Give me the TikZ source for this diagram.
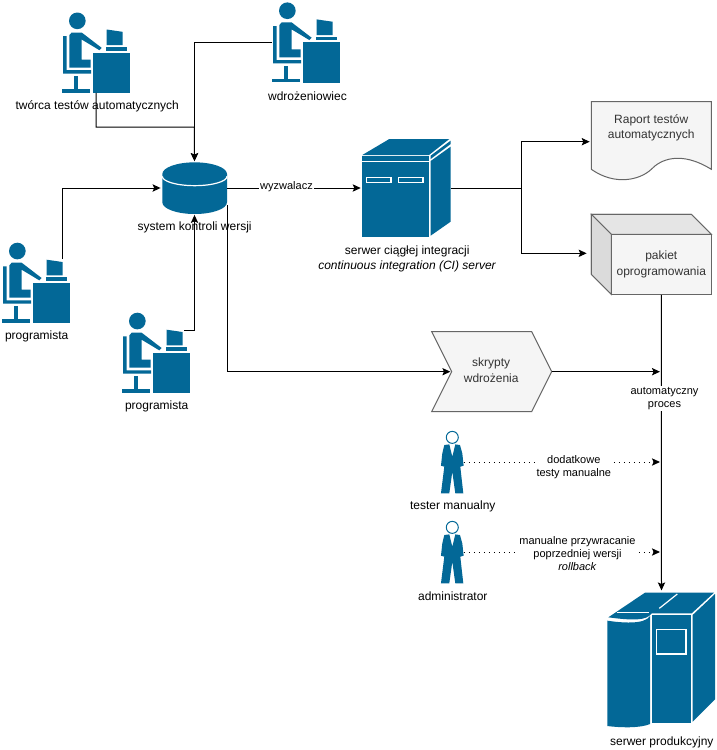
\documentclass[tikz,border=0pt]{standalone}
\usepackage{fontspec}
\setmainfont{Liberation Sans}
\usepackage{xcolor}
\usetikzlibrary{arrows.meta}
\definecolor{ciscoblue}{HTML}{036897}
\definecolor{boxfill}{HTML}{F5F5F5}
\definecolor{boxline}{HTML}{666666}
\definecolor{boxtext}{HTML}{333333}

\tikzset{
  opis/.style={inner sep=0pt,align=center,font=\fontsize{9}{11.7}\selectfont},
  maly/.style={fill=white,inner sep=1pt,align=center,font=\fontsize{8.25}{9.9}\selectfont},
  tekst/.style={opis,text=boxtext},
  miejsce/.style={inner sep=0pt,minimum width=#1},
  pudlo/.style={fill=boxfill,draw=boxline,line width=.75pt},
  polaczenie/.style={->,line width=.75pt,shorten >=1pt},
  kropki/.style={polaczenie,dash pattern=on .75pt off 3pt},
  pracownik/.pic={
    \begin{scope}[scale=1/3]
      \fill[ciscoblue] (-56,-95) circle[radius=25];
      \fill[ciscoblue] (-99,-49) -- (-88,-49) -- (-88,53) -- (-15,53) -- (-15,63) -- (-99,63) -- cycle;
      \fill[ciscoblue] (-65,71) rectangle (-54,110);
      \fill[ciscoblue] (-101,110) rectangle (-18,120);
      \fill[ciscoblue] (-80,-52) -- (-73,-60) -- (-43,-60) -- (17,-14) -- (10,-7) -- (-43,-39) -- (-43,21)
        -- (-16,21) -- (-16,45) -- (-80,45) -- cycle;
      \fill[ciscoblue] (-9,0) rectangle (101,121);
      \fill[ciscoblue] (31,-16) rectangle (93,-6);
      \fill[ciscoblue] (32,-69) -- (80,-62) -- (80,-22) -- (32,-22) -- cycle;
    \end{scope}
  },
  osoba/.pic={
    \begin{scope}[scale=1/3]
      \draw[ciscoblue,fill=white,line width=.75pt] (0,-25) circle[radius=18];
      \fill[ciscoblue] (-24,-2) -- (-9,-4) -- (0,33) -- (9,-4) -- (23,-2) -- (30,23) -- (34,60) -- (24,63)
        -- (33,143) -- (9,143) -- (0,78) -- (-9,143) -- (-34,143) -- (-24,63) -- (-34,60) -- (-30,23) -- cycle;
    \end{scope}
  },
}

\begin{document}
\begin{tikzpicture}[x=.75pt,y=-.75pt,>={Stealth[length=6pt,width=5.5pt,inset=1.2pt]}]
  \useasboundingbox (0,0) rectangle (717,750);
  \fill[white] (0,0) rectangle (717,750);

  % ludzie
  \node[miejsce=50.5pt,minimum height=60.2pt] (tworca) at (96,52.5) {};
  \node[miejsce=50.5pt,minimum height=60.2pt] (wdrozeniowiec) at (306,42.4) {};
  \node[miejsce=50.5pt,minimum height=60.2pt] (programistaA) at (36,282.7) {};
  \node[miejsce=50.5pt,minimum height=60.2pt] (programistaB) at (156,352.7) {};
  \pic at (tworca) {pracownik};
  \pic at (wdrozeniowiec) {pracownik};
  \pic at (programistaA) {pracownik};
  \pic at (programistaB) {pracownik};
  \node[miejsce=17pt,minimum height=46.5pt] (tester) at (452.3,462) {};
  \node[miejsce=17pt,minimum height=46.5pt] (administrator) at (452.3,552) {};
  \pic at (452.3,445.7) {osoba};
  \pic at (452.3,535.7) {osoba};

  % repozytorium
  \node[miejsce=48.5pt,minimum height=38pt] (repo) at (194.5,188) {};
  \begin{scope}[shift={(155,155)},scale=1/3]
    \fill[ciscoblue] (22,57) -- (22,142) arc[start angle=180,end angle=0,x radius=97,y radius=35]
      -- (216,57) arc[start angle=0,end angle=-180,x radius=97,y radius=35] -- cycle;
    \draw[white,line width=.9pt] (22,64) arc[start angle=180,end angle=0,x radius=97,y radius=28];
  \end{scope}

  % serwer CI
  \node[miejsce=66.3pt,minimum height=73.3pt] (serwerCI) at (406.5,188) {};
  \begin{scope}[shift={(340,90)},scale=1/3]
    \fill[ciscoblue] (67,195) -- (148,147) -- (328,147) -- (267,195) -- cycle;
    \fill[ciscoblue] (67,198) rectangle (267,213);
    \fill[ciscoblue] (67,217) rectangle (267,440);
    \fill[ciscoblue] (272,197) -- (332,152) -- (332,162) -- (272,207) -- cycle;
    \fill[ciscoblue] (272,213) -- (332,170) -- (332,395) -- (272,437) -- cycle;
    \draw[white,line width=1pt] (80,262) rectangle (153,277);
    \draw[white,line width=1pt] (176,262) rectangle (249,277);
  \end{scope}

  % raport
  \node[miejsce=90pt,minimum height=60pt] (raport) at (651.3,141.7) {};
  \draw[pudlo] (591.3,101.7) -- (711.3,101.7) -- (711.3,169.3)
    .. controls (680,150) and (660,160) .. (651.3,169.3)
    .. controls (640,180) and (615,186) .. (591.3,169.3) -- cycle;
  \node[tekst] (raportopis) at (651.2,127.9) {Raport testów\\automatycznych};

  % pakiet
  \draw[pudlo] (591.3,214.3) -- (691.3,214.3) -- (711.3,234.3) -- (711.3,294.3) -- (611.3,294.3) -- (591.3,274.3) -- cycle;
  \draw[fill=black!10,draw=boxline,line width=.75pt] (591.3,214.3) -- (691.3,214.3) -- (711.3,234.3) -- (611.3,234.3) -- cycle;
  \draw[fill=black!14,draw=boxline,line width=.75pt] (591.3,214.3) -- (611.3,234.3) -- (611.3,294.3) -- (591.3,274.3) -- cycle;
  \node[tekst,pudlo,text=boxtext,minimum width=75pt,minimum height=45pt] (pakiet) at (661.3,264.3) {pakiet\\oprogramowania};
  \coordinate (pakietwej) at (591.3,253.3);

  % skrypty
  \draw[pudlo] (431.7,331.7) -- (531.7,331.7) -- (551.7,371.7) -- (531.7,411.7) -- (431.7,411.7) -- (451.7,371.7) -- cycle;
  \node[tekst] (skrypty) at (491.2,370.2) {skrypty\\wdrożenia};
  \coordinate (skryptywej) at (451.7,371.7);
  \coordinate (skryptywyj) at (551.7,371.7);

  % serwer produkcyjny
  \node[miejsce=81pt,minimum height=102pt] (produkcja) at (661.5,660) {};
  \begin{scope}[shift={(590,580)},scale=1/3]
    \fill[ciscoblue] (165,38) -- (372,38) -- (305,100) -- (185,100)
      .. controls (170,122) and (130,122) .. (55,112) -- cycle;
    \draw[white,line width=.9pt] (80,98) -- (176,98);
    \draw[white,line width=.9pt] (208,85) -- (262,42);
    \fill[ciscoblue] (52,122) .. controls (90,128) and (165,135) .. (180,108) -- (180,432)
      .. controls (150,445) and (90,443) .. (52,438) -- cycle;
    \fill[ciscoblue] (187,105) rectangle (303,430);
    \fill[ciscoblue] (308,105) -- (375,42) -- (375,358) -- (308,425) -- cycle;
    \draw[white,line width=1pt] (200,148) rectangle (288,222);
  \end{scope}

  % polaczenia
  \coordinate (programistaAwyj) at (62.7,259);
  \coordinate (programistaBwyj) at (184.3,330.7);
  \coordinate (repowyj) at (227.3,205);
  \draw[polaczenie] (tworca.south) |- (194.3,127) -- (repo.north);
  \draw[polaczenie] (wdrozeniowiec.west) -| (repo.north);
  \draw[polaczenie] (programistaAwyj) |- (repo.west);
  \draw[polaczenie] (programistaBwyj) -| (repo.south);
  \draw[polaczenie] (repo.east) -- (serwerCI.west);
  \draw[polaczenie] (repowyj) |- (skryptywej);
  \draw[polaczenie] (serwerCI.east) -| (521.7,141.7) -- (raport.west);
  \draw[polaczenie,shorten >=3.5pt] (serwerCI.east) -| (521.7,253.3) -- (pakietwej);
  \draw[polaczenie] (skryptywyj) -- (pakiet.south |- skryptywyj);
  \draw[polaczenie] (pakiet.south) -- (produkcja.north);
  \draw[kropki] (tester.east) -- (pakiet.south |- tester.east);
  \draw[kropki] (administrator.east) -- (pakiet.south |- administrator.east);

  % napisy
  \node[opis] (tworcaopis) at (97.2,106.3) {twórca testów automatycznych};
  \node[opis] (wdrozeniowiecopis) at (307.5,96) {wdrożeniowiec};
  \node[opis] (repoopis) at (194.6,227) {system kontroli wersji};
  \node[opis] (programistaAopis) at (36.7,336.3) {programista};
  \node[opis] (programistaBopis) at (156.7,406) {programista};
  \node[opis] (serwerCIopis) at (407.2,259) {serwer ciągłej integracji\\\textit{continuous integration (CI) server}};
  \node[opis] (testeropis) at (452.8,506) {tester manualny};
  \node[opis] (administratoropis) at (452.8,596) {administrator};
  \node[opis] (produkcjaopis) at (661.8,742.5) {serwer produkcyjny};
  \node[maly] (wyzwalacz) at (286.5,186.5) {wyzwalacz};
  \node[maly] (proces) at (664.5,398.8) {automatyczny\\proces};
  \node[maly] (dodatkowe) at (573.8,466.9) {dodatkowe\\testy manualne};
  \node[maly] (rollback) at (577.5,553.7) {manualne przywracanie\\poprzedniej wersji\\\textit{rollback}};
\end{tikzpicture}
\end{document}
